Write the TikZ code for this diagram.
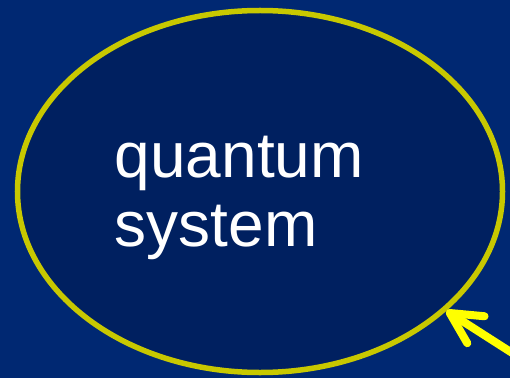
\documentclass[tikz,border=0pt]{standalone}
\usepackage{fontspec}
\setmainfont{Liberation Sans}
\usepackage{tikz}
\usetikzlibrary{positioning,arrows.meta,shapes.geometric}

\definecolor{slidebg}{RGB}{0,40,114}
\definecolor{sysfill}{RGB}{0,32,96}
\definecolor{sysline}{RGB}{200,200,0}
\definecolor{arrowyel}{RGB}{255,255,0}

\begin{document}
\begin{tikzpicture}[
  x=1pt,y=1pt,
  sysbox/.style={draw=sysline,fill=sysfill,ellipse,line width=5.5pt,
                 minimum width=485pt,minimum height=362pt,inner sep=0pt},
  lbl/.style={text=white,align=left,inner sep=0pt,
              font=\fontsize{64}{69}\selectfont},
  arr/.style={draw=arrowyel,line width=8pt,line cap=round,
              -{Straight Barb[length=31pt,width=32pt,line cap=round,line join=round]}},
]
\fill[slidebg] (0,0) rectangle (510,378);
\useasboundingbox (0,0) rectangle (510,378);
\node[sysbox] (sys) at (260,186.5) {};
\node[lbl,anchor=base west] (txt) at (114.5,132) {quantum\\system};
\coordinate (src) at (543.5,5);
\draw[arr] (src) -- (sys);
\end{tikzpicture}
\end{document}
